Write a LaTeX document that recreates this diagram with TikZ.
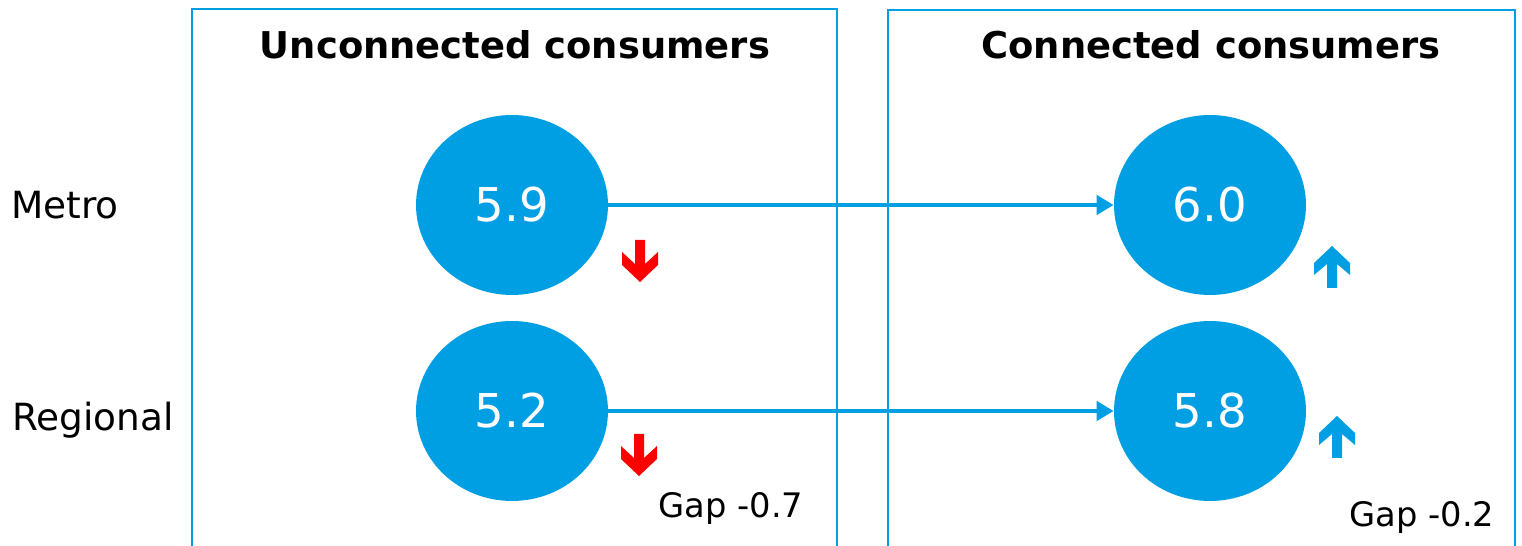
\documentclass[tikz,border=0pt]{standalone}
\usepackage{fontspec}
\setmainfont{DejaVu Sans}
\usetikzlibrary{arrows.meta,shapes.geometric}
\definecolor{panelblue}{RGB}{0,159,227}
\begin{document}
\begin{tikzpicture}[
            x=0.02cm, y=-0.02cm,
            score node/.style={ellipse,fill=panelblue,text=white,font=\fontsize{26.5}{30}\selectfont,minimum width=3.84cm,minimum height=3.6cm,inner sep=0pt},
            panel/.style={draw=panelblue,line width=1.3pt},
            title/.style={font=\fontsize{21}{25}\selectfont\bfseries},
            row label/.style={font=\fontsize{21.3}{25}\selectfont},
            gap label/.style={font=\fontsize{19.2}{23}\selectfont},
            every edge/.style={draw=panelblue,line width=2.6pt,-{Triangle[length=0.34cm,width=0.38cm]}},
            fall mark/.pic={\fill[red] (-5,0) -- (5,0) -- (5,24) -- (18,12) -- (18,25) -- (0,42) -- (-18,25) -- (-18,12) -- (-5,24) -- cycle;},
            rise mark/.pic={\fill[panelblue] (0,0) -- (18,17) -- (18,29) -- (5,18) -- (5,42) -- (-5,42) -- (-5,18) -- (-18,29) -- (-18,17) -- cycle;},
        ]
            \useasboundingbox (0,0) rectangle (1522,546);

            % the two panels, open at the bottom
            \draw[panel] (192,546) -- (192,9) -- (837,9) -- (837,546);
            \draw[panel] (888,546) -- (888,10) -- (1515,10) -- (1515,546);
            \node[title] (tu) at (515,45) {Unconnected consumers};
            \node[title] (tc) at (1211,45) {Connected consumers};

            \node[row label] (metro) at (65,205) {Metro};
            \node[row label] (regional) at (93,420) {Regional};

            \node[score node] (u1) at (512,205) {5.9};
            \node[score node] (u2) at (512,411) {5.2};
            \node[score node] (c1) at (1210,205) {6.0};
            \node[score node] (c2) at (1210,411) {5.8};

            \path (u1) edge (c1);
            \path (u2) edge (c2);

            \pic at (640,240) {fall mark};
            \pic at (639,434) {fall mark};
            \pic at (1332,246) {rise mark};
            \pic at (1337,416) {rise mark};

            \node[gap label] (g1) at (731,508) {Gap -0.7};
            \node[gap label] (g2) at (1422,517) {Gap -0.2};
        \end{tikzpicture}
\end{document}
